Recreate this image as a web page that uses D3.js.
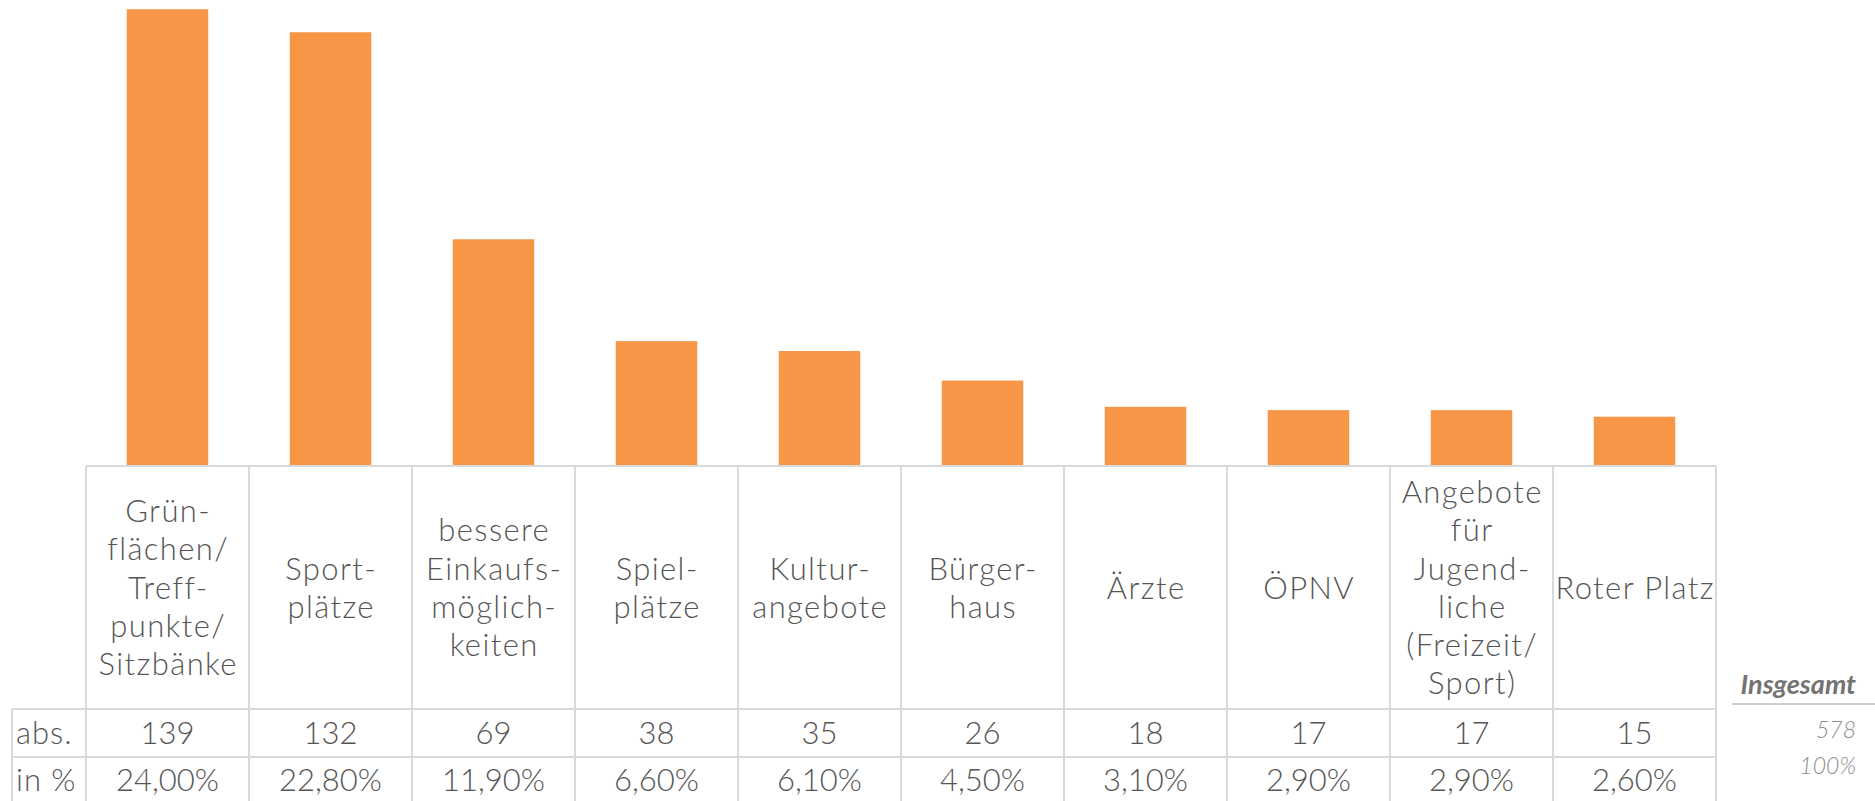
<!DOCTYPE html>
<html>
<head>
<meta charset="utf-8">
<script src="https://cdn.jsdelivr.net/npm/d3@7"></script>
<style>
  html, body { margin: 0; padding: 0; background: #fff; }
  svg { display: block; }
  text { font-family: Lato, "Open Sans", sans-serif; }
</style>
</head>
<body>
<svg id="chart" width="1875" height="801"></svg>
<script>
// ---- data ----
const categories = [
  "Grünflächen/Treffpunkte/Sitzbänke", "Sportplätze", "bessere Einkaufsmöglichkeiten",
  "Spielplätze", "Kulturangebote", "Bürgerhaus", "Ärzte", "ÖPNV",
  "Angebote für Jugendliche (Freizeit/Sport)", "Roter Platz"
];
const labelLines = [
  ["Grün-", "flächen/", "Treff-", "punkte/", "Sitzbänke"],
  ["Sport-", "plätze"],
  ["bessere", "Einkaufs-", "möglich-", "keiten"],
  ["Spiel-", "plätze"],
  ["Kultur-", "angebote"],
  ["Bürger-", "haus"],
  ["Ärzte"],
  ["ÖPNV"],
  ["Angebote", "für", "Jugend-", "liche", "(Freizeit/", "Sport)"],
  ["Roter Platz"]
];
const absValues = [139, 132, 69, 38, 35, 26, 18, 17, 17, 15];
const pctLabels = ["24,00%", "22,80%", "11,90%", "6,60%", "6,10%", "4,50%", "3,10%", "2,90%", "2,90%", "2,60%"];
const rowLabels = ["abs.", "in %"];
const totalTitle = "Insgesamt";
const totalAbs = "578";
const totalPct = "100%";

// ---- layout ----
const svg = d3.select("#chart");
const left = 86, right = 1716, base = 466;
const headerBottom = 709, absBottom = 757, pctBottom = 805;
const tableLeft = 12;
const textColor = "#555555";
const gridColor = "#d9d9d9";
const barColor = "#F79646";
const fontSize = 31;

const x = d3.scaleBand().domain(categories).range([left, right]).paddingInner(0).paddingOuter(0);
const y = d3.scaleLinear().domain([0, 140]).range([base, base - 140 * 3.286]);

// bars
const bw = x.bandwidth() * 0.5;
svg.append("g").selectAll("rect").data(categories).join("rect")
  .attr("x", d => x(d) + (x.bandwidth() - bw) / 2)
  .attr("width", bw)
  .attr("y", (d, i) => y(absValues[i]))
  .attr("height", (d, i) => y(0) - y(absValues[i]))
  .attr("fill", barColor);

// table grid
const grid = svg.append("g").attr("stroke", gridColor).attr("stroke-width", 2).attr("fill", "none");
grid.append("line").attr("x1", left).attr("x2", right).attr("y1", base).attr("y2", base);
grid.append("line").attr("x1", tableLeft).attr("x2", right).attr("y1", headerBottom).attr("y2", headerBottom);
grid.append("line").attr("x1", tableLeft).attr("x2", right).attr("y1", absBottom).attr("y2", absBottom);
grid.append("line").attr("x1", tableLeft).attr("x2", right).attr("y1", pctBottom).attr("y2", pctBottom);
grid.append("line").attr("x1", tableLeft).attr("x2", tableLeft).attr("y1", headerBottom).attr("y2", pctBottom);
const vx = categories.map(c => x(c)).concat([x(categories[categories.length - 1]) + x.bandwidth()]);
grid.selectAll("line.v").data(vx).join("line").attr("class", "v")
  .attr("x1", d => d).attr("x2", d => d).attr("y1", base).attr("y2", pctBottom);

// header labels
const lineH = 38.3;
const headerMid = (base + headerBottom) / 2;
const hdr = svg.append("g").attr("fill", textColor).attr("font-size", fontSize)
  .attr("font-weight", 300).attr("text-anchor", "middle").attr("letter-spacing", 1.4);
categories.forEach((c, i) => {
  const lines = labelLines[i];
  const cx = x(c) + x.bandwidth() / 2 + 0.7;
  const firstBase = headerMid - (lines.length - 1) * lineH / 2 + fontSize * 0.36;
  const t = hdr.append("text").attr("x", cx).attr("y", firstBase);
  lines.forEach((l, k) => {
    t.append("tspan").attr("x", cx).attr("dy", k === 0 ? 0 : lineH).text(l);
  });
});

// row values
const rows = svg.append("g").attr("fill", textColor).attr("font-size", fontSize).attr("font-weight", 300);
const absY = (headerBottom + absBottom) / 2 + fontSize * 0.36;
const pctY = (absBottom + pctBottom) / 2 + fontSize * 0.36 - 1;
rows.append("text").attr("x", 16).attr("y", absY).attr("letter-spacing", 1).text(rowLabels[0]);
rows.append("text").attr("x", 16).attr("y", pctY).attr("letter-spacing", 1).text(rowLabels[1]);
rows.selectAll("text.abs").data(categories).join("text").attr("class", "abs")
  .attr("text-anchor", "middle")
  .attr("x", d => x(d) + x.bandwidth() / 2).attr("y", absY)
  .text((d, i) => absValues[i]);
rows.selectAll("text.pct").data(categories).join("text").attr("class", "pct")
  .attr("text-anchor", "middle")
  .attr("x", d => x(d) + x.bandwidth() / 2).attr("y", pctY)
  .text((d, i) => pctLabels[i]);

// totals
const tot = svg.append("g").attr("text-anchor", "end");
tot.append("text").attr("x", 1856).attr("y", 694).attr("font-size", 27)
  .attr("font-weight", "bold").attr("font-style", "italic").attr("fill", "#737373").text(totalTitle);
tot.append("line").attr("x1", 1732).attr("x2", 1875).attr("y1", 704).attr("y2", 704)
  .attr("stroke", "#bfbfbf").attr("stroke-width", 1.5);
tot.append("text").attr("x", 1856).attr("y", 738).attr("font-size", 23)
  .attr("font-weight", 300).attr("font-style", "italic").attr("fill", "#8c8c8c").text(totalAbs);
tot.append("text").attr("x", 1856).attr("y", 774).attr("font-size", 23)
  .attr("font-weight", 300).attr("font-style", "italic").attr("fill", "#8c8c8c").text(totalPct);
</script>
</body>
</html>
